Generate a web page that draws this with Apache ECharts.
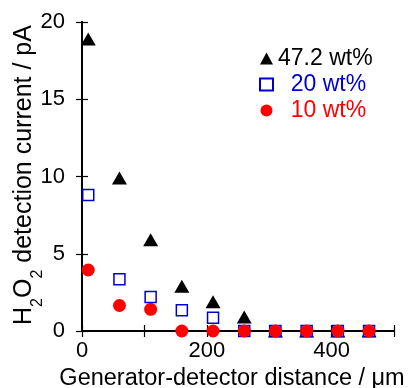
<!DOCTYPE html>
<html>
<head>
<meta charset="utf-8">
<script src="https://cdn.jsdelivr.net/npm/echarts@6/dist/echarts.min.js"></script>
<style>
  html, body { margin: 0; padding: 0; background: #fff; }
  #chart { width: 411px; height: 388px; }
</style>
</head>
<body>
<div id="chart"></div>
<script>
// distances (µm) and currents (pA)
const distance = [10, 60, 110, 160, 210, 260, 310, 360, 410, 460]
const wt472 = [18.9, 9.9, 5.9, 2.9, 1.9, 0.9, 0, 0, 0, 0]
const wt20 = [8.8, 3.35, 2.2, 1.35, 0.85, 0, 0, 0, 0, 0]
const wt10 = [3.95, 1.65, 1.4, 0, 0, 0, 0, 0, 0, 0]
const seriesNames = ['47.2 wt%', '20 wt%', '10 wt%']

const font = 'Liberation Sans, Arial, sans-serif'
const blue = '#0000cc'
const red = '#ff0000'

const pairs = (ys) => distance.map((x, i) => [x, ys[i]])

const chart = echarts.init(document.getElementById('chart'))

const frameLine = {show: true, lineStyle: {color: '#000', width: 2}}
const innerTick = {show: true, inside: true, length: 6, lineStyle: {color: '#000', width: 1.2}}

const option = {
  animation: false,
  grid: {left: 82, right: 17, top: 22, bottom: 57, containLabel: false, outerBoundsMode: 'none'},
  legend: {
    orient: 'vertical',
    left: 254,
    top: 42,
    itemWidth: 13,
    itemHeight: 12,
    itemGap: 3,
    textStyle: {fontFamily: font, fontSize: 23},
    formatter: (name) => name === seriesNames[0] ? name : '  ' + name,
    data: [
      {name: seriesNames[0], textStyle: {color: '#000'}},
      {name: seriesNames[1], textStyle: {color: blue}},
      {name: seriesNames[2], textStyle: {color: red}}
    ]
  },
  xAxis: [
    {
      type: 'value',
      min: 0,
      max: 500,
      interval: 100,
      name: 'Generator-detector distance / μm',
      nameLocation: 'middle',
      nameGap: 36,
      nameMoveOverlap: false,
      nameTextStyle: {fontFamily: font, fontSize: 23.5, color: '#000', padding: [0, 12, 0, 0]},
      axisLine: frameLine,
      axisTick: innerTick,
      splitLine: {show: false},
      axisLabel: {
        fontFamily: font,
        fontSize: 22,
        color: '#000',
        margin: 9,
        formatter: (v) => v % 200 === 0 ? String(v) : ''
      }
    },
    {
      type: 'value',
      position: 'top',
      min: 0,
      max: 500,
      interval: 100,
      axisLine: frameLine,
      axisTick: innerTick,
      splitLine: {show: false},
      axisLabel: {show: false}
    }
  ],
  yAxis: [
    {
      type: 'value',
      min: 0,
      max: 20,
      interval: 5,
      name: 'H{sub|2}O{sub|2} detection current / pA',
      nameLocation: 'middle',
      nameGap: 36,
      nameMoveOverlap: false,
      nameTextStyle: {
        fontFamily: font,
        fontSize: 25,
        color: '#000',
        padding: [0, 0, 0, 3],
        rich: {
          sub: {fontFamily: font, fontSize: 16, color: '#000', padding: [27, 0, 0, 0]}
        }
      },
      axisLine: frameLine,
      axisTick: innerTick,
      splitLine: {show: false},
      axisLabel: {fontFamily: font, fontSize: 22, color: '#000', margin: 17}
    },
    {
      type: 'value',
      position: 'right',
      min: 0,
      max: 20,
      interval: 5,
      axisLine: frameLine,
      axisTick: innerTick,
      splitLine: {show: false},
      axisLabel: {show: false}
    }
  ],
  series: [
    {
      name: seriesNames[0],
      type: 'scatter',
      symbol: 'triangle',
      symbolSize: [15, 13],
      itemStyle: {color: '#000', opacity: 1},
      data: pairs(wt472)
    },
    {
      name: seriesNames[1],
      type: 'scatter',
      symbol: 'rect',
      symbolSize: 11,
      itemStyle: {color: '#fff', borderColor: blue, borderWidth: 1.5, opacity: 1},
      data: pairs(wt20)
    },
    {
      name: seriesNames[2],
      type: 'scatter',
      symbol: 'circle',
      symbolSize: 13,
      itemStyle: {color: red, opacity: 1},
      data: pairs(wt10)
    }
  ]
}

chart.setOption(option)
</script>
</body>
</html>
